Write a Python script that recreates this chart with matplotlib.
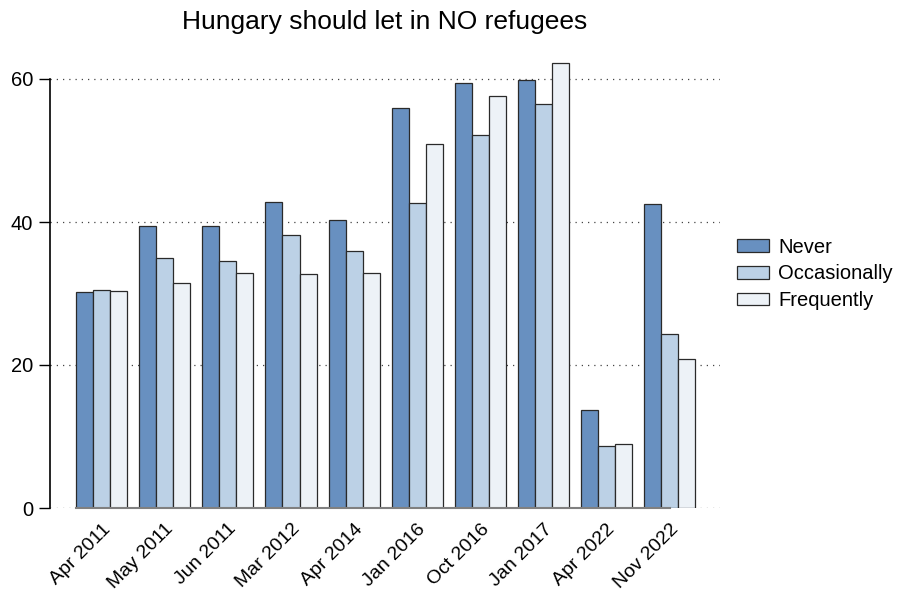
import numpy as np
import matplotlib
matplotlib.use('Agg')
import matplotlib.pyplot as plt

plt.rcParams['font.family'] = ['Liberation Sans', 'DejaVu Sans']

waves = ['Apr 2011', 'May 2011', 'Jun 2011', 'Mar 2012', 'Apr 2014',
         'Jan 2016', 'Oct 2016', 'Jan 2017', 'Apr 2022', 'Nov 2022']
never = [30.2, 39.4, 39.4, 42.8, 40.3, 56.0, 59.4, 59.8, 13.7, 42.5]
occasionally = [30.5, 35.0, 34.5, 38.2, 36.0, 42.7, 52.2, 56.5, 8.7, 24.4]
frequently = [30.4, 31.5, 32.8, 32.7, 32.9, 50.9, 57.6, 62.2, 9.0, 20.9]
series = ['Never', 'Occasionally', 'Frequently']
colors = ['#6890c0', '#bcd1e6', '#edf2f7']

fig = plt.figure(figsize=(9, 5.92), dpi=100)
# 60 sits at y=79px, 0 at y=508px
ymax = 64
ax = fig.add_axes([50/900, 1-508/592, 670/900, (429 * ymax / 60)/592])

x = np.arange(len(waves))
w = 0.27
for k, (vals, lab, col) in enumerate(zip([never, occasionally, frequently], series, colors)):
    ax.bar(x + (k - 1) * w, vals, w, color=col, edgecolor='#2a2a2a', linewidth=0.9,
           label=lab, zorder=3)

ax.set_xlim(-0.82, len(waves) - 1 + 0.8)
ax.set_ylim(0, ymax)
ax.set_yticks([0, 20, 40, 60])
ax.yaxis.grid(True, linestyle=(0, (1, 4)), color='#444444', linewidth=0.9, zorder=0)
ax.tick_params(axis='y', length=8, width=1, labelsize=14.5, pad=4)
ax.tick_params(axis='x', length=0, labelsize=14, pad=9)
ax.set_xticks(x)
ax.set_xticklabels(waves, rotation=45, ha='right', va='top', rotation_mode='anchor')

for s in ['top', 'right']:
    ax.spines[s].set_visible(False)
ax.spines['left'].set_linewidth(1.2)
ax.spines['left'].set_bounds(0, 60)
ax.spines['bottom'].set_color('#808080')
ax.spines['bottom'].set_linewidth(1.5)
ax.spines['bottom'].set_bounds(x[0] - 1.5 * w, x[-1])
ax.spines['bottom'].set_zorder(4)

fig.text(385/900, 1 - 22/592, 'Hungary should let in NO refugees', fontsize=19,
         ha='center', va='center')
ax.legend(loc='center left', bbox_to_anchor=(737/900, 1 - 274/592),
          bbox_transform=fig.transFigure, frameon=False,
          fontsize=14.5, handlelength=1.6, handleheight=0.6, labelspacing=0.38,
          handletextpad=0.45, borderaxespad=0, borderpad=0)

fig.savefig('out.png', dpi=100)
